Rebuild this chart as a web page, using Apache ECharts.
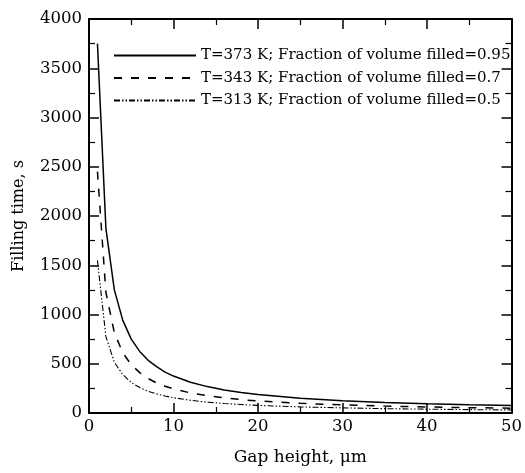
<!DOCTYPE html>
<html>
<head>
<meta charset="utf-8">
<script src="https://cdn.jsdelivr.net/npm/echarts@6/dist/echarts.min.js"></script>
<style>html,body{margin:0;padding:0;background:#fff}#c{width:525px;height:473px}</style>
</head>
<body>
<div id="c"></div>
<script>
const gapHeight = [1, 2, 3, 4, 5, 6, 7, 8, 9, 10, 12, 14, 16, 18, 20, 25, 30, 35, 40, 45, 50];
const t373 = [3750, 1875, 1250, 940, 750, 625, 535, 470, 415, 375, 312, 268, 234, 208, 188, 150, 125, 107, 94, 83, 75];
const t343 = [2450, 1225, 815, 610, 490, 410, 350, 305, 272, 245, 204, 175, 153, 136, 122, 98, 82, 70, 61, 54, 49];
const t313 = [1550, 775, 515, 390, 310, 258, 220, 194, 172, 155, 129, 110, 97, 86, 77, 62, 52, 44, 39, 34, 31];
const seriesNames = [
  'T=373 K; Fraction of volume filled=0.95',
  'T=343 K; Fraction of volume filled=0.7',
  'T=313 K; Fraction of volume filled=0.5'
];
const xTitle = 'Gap height, μm';
const yTitle = 'Filling time, s';

const pair = (xs, ys) => xs.map((x, i) => [x, ys[i]]);
const font = 'DejaVu Serif';
const axisCommon = {
  axisLine: { show: true, onZero: false, lineStyle: { color: '#000', width: 2 } },
  axisTick: { show: true, inside: true, length: 10, lineStyle: { color: '#000', width: 1.5 } },
  minorTick: { show: true, splitNumber: 2, length: 6, lineStyle: { color: '#000', width: 1.2 } },
  splitLine: { show: false }
};
const chart = echarts.init(document.getElementById('c'), null, { renderer: 'canvas' });
chart.setOption({
  backgroundColor: '#fff',
  animation: false,
  grid: { left: 89, right: 9, top: 19, bottom: 60 },
  legend: {
    orient: 'vertical', left: 108, top: 43,
    itemWidth: 82, itemHeight: 14, itemGap: 7.5,
    itemStyle: { opacity: 0 },
    textStyle: { fontFamily: font, fontSize: 15, color: '#000' },
    data: seriesNames
  },
  xAxis: [
    Object.assign({
      type: 'value', min: 0, max: 50, interval: 10, position: 'bottom',
      name: xTitle, nameLocation: 'middle', nameGap: 36,
      nameTextStyle: { fontFamily: font, fontSize: 17, color: '#000' },
      axisLabel: { fontFamily: font, fontSize: 16.5, color: '#000', margin: 5 }
    }, axisCommon),
    Object.assign({
      type: 'value', min: 0, max: 50, interval: 10, position: 'top',
      axisLabel: { show: false }
    }, axisCommon)
  ],
  yAxis: [
    Object.assign({
      type: 'value', min: 0, max: 4000, interval: 500, position: 'left',
      name: yTitle, nameLocation: 'middle', nameGap: 62, nameRotate: 90,
      nameTextStyle: { fontFamily: font, fontSize: 16, color: '#000' },
      axisLabel: { fontFamily: font, fontSize: 16.5, color: '#000', margin: 7,
        formatter: v => String(v) }
    }, axisCommon),
    Object.assign({
      type: 'value', min: 0, max: 4000, interval: 500, position: 'right',
      axisLabel: { show: false }
    }, axisCommon)
  ],
  series: [
    { name: seriesNames[0], type: 'line', data: pair(gapHeight, t373), symbol: 'none',
      itemStyle: { color: '#000' },
      lineStyle: { color: '#000', width: 1.5, type: 'solid' } },
    { name: seriesNames[1], type: 'line', data: pair(gapHeight, t343), symbol: 'none',
      itemStyle: { color: '#000' },
      lineStyle: { color: '#000', width: 1.5, type: [8, 9] } },
    { name: seriesNames[2], type: 'line', data: pair(gapHeight, t313), symbol: 'none',
      itemStyle: { color: '#000' },
      lineStyle: { color: '#000', width: 1.1, type: [6, 2, 1.5, 2, 1.5, 2] } }
  ]
});
</script>
</body>
</html>
